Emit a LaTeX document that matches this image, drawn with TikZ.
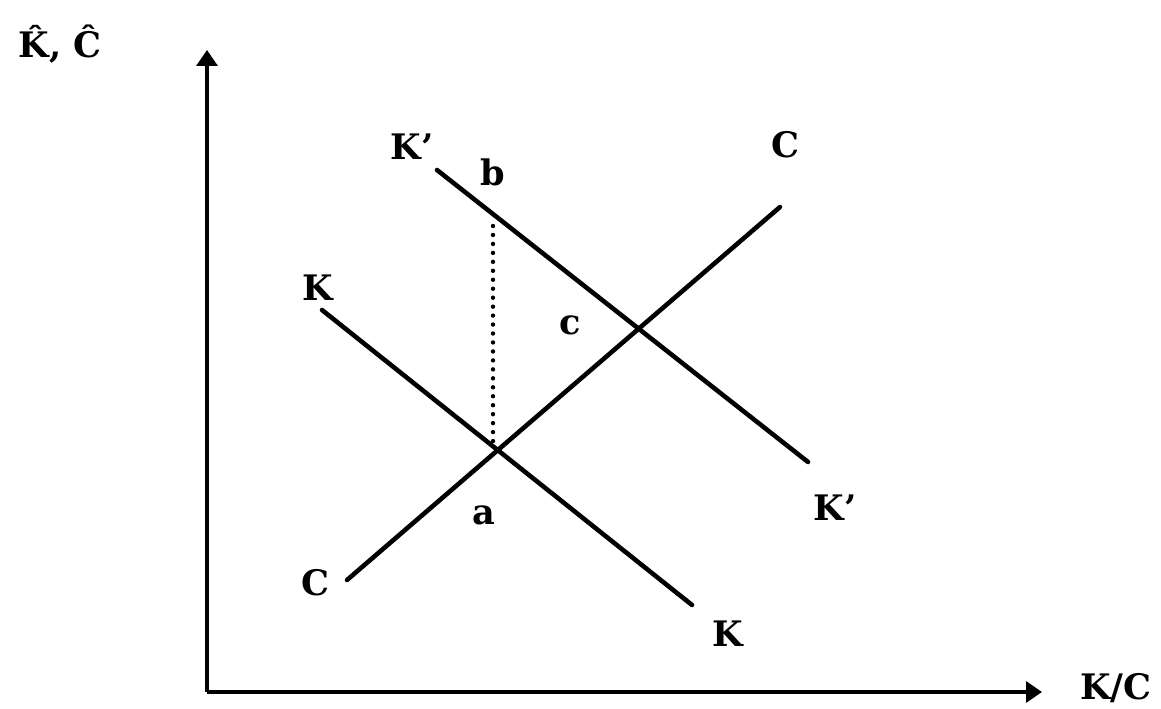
\documentclass[tikz,border=0pt]{standalone}
\usepackage{fontspec}
\setmainfont{DejaVu Serif}
\usetikzlibrary{arrows.meta}

\tikzset{
  curva/.style={line width=2.6pt,line cap=round},
  eje/.style={line width=1.9pt,->},
  etiq/.style={font=\fontsize{20}{23}\selectfont\bfseries,inner sep=1pt},
}

\begin{document}
\begin{tikzpicture}[x=0.02cm,y=-0.02cm,>={Triangle[length=0.32cm,width=0.42cm]}]
  \useasboundingbox (0,0) rectangle (1161,709);
  % ejes
  \coordinate (O) at (207,692);
  \coordinate (Ytip) at (207,50);
  \coordinate (Xtip) at (1042,692);
  \draw[eje] (O) -- (Ytip);
  \draw[eje] (O) -- (Xtip);
  \node[etiq] (ylab) at (60,44) {\^{K}, \^{C}};
  \node[etiq] (xlab) at (1116,688) {K/C};
  % curvas K, K' y C
  \coordinate (K1) at (322,310);
  \coordinate (K2) at (692,605);
  \coordinate (Kp1) at (437,170);
  \coordinate (Kp2) at (808,462);
  \coordinate (C1) at (347,580);
  \coordinate (C2) at (780,207);
  \draw[curva] (K1) -- (K2);
  \draw[curva] (Kp1) -- (Kp2);
  \draw[curva] (C1) -- (C2);
  % de a hasta b
  \coordinate (bTop) at (493,226);
  \coordinate (aBot) at (493,442);
  \draw[line width=2.5pt,line cap=round,dash pattern=on 0pt off 5.1pt] (bTop) -- (aBot);
  % etiquetas
  \node[etiq] (lKp1) at (412,147) {K’};
  \node[etiq] (lb) at (493,172) {b};
  \node[etiq] (lC2) at (785,145) {C};
  \node[etiq] (lK1) at (318,288) {K};
  \node[etiq] (lc) at (570,325) {c};
  \node[etiq] (la) at (484,515) {a};
  \node[etiq] (lKp2) at (835,508) {K’};
  \node[etiq] (lC1) at (315,583) {C};
  \node[etiq] (lK2) at (728,634) {K};
\end{tikzpicture}
\end{document}
